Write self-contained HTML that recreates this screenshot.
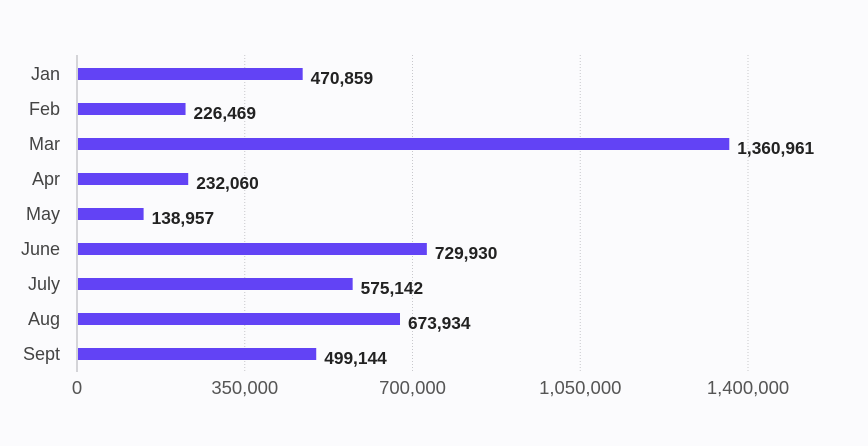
<!DOCTYPE html>
<html><head><meta charset="utf-8"><style>
body{margin:0;background:#fbfbfd;}
svg{display:block;font-family:"Liberation Sans",sans-serif;}
</style></head><body>
<svg width="868" height="446">
<rect width="868" height="446" fill="#fbfbfd"/>
<g id="grid"></g><g id="bars"></g><g id="labels"></g>
</svg>
<script>
const categories=["Jan","Feb","Mar","Apr","May","June","July","Aug","Sept"];
const values=[470859,226469,1360961,232060,138957,729930,575142,673934,499144];
const valueLabels=["470,859","226,469","1,360,961","232,060","138,957","729,930","575,142","673,934","499,144"];
const ticks=[0,350000,700000,1050000,1400000];
const tickLabels=["0","350,000","700,000","1,050,000","1,400,000"];
const NS="http://www.w3.org/2000/svg";
const x0=77,x1=748,maxV=1400000;
const xs=v=>x0+v/maxV*(x1-x0);
const yc=i=>74+i*35;
function mk(t,a,p){const e=document.createElementNS(NS,t);for(const k in a)e.setAttribute(k,a[k]);p.appendChild(e);return e;}
const grid=document.getElementById('grid'),bars=document.getElementById('bars'),labels=document.getElementById('labels');
ticks.forEach((t,i)=>{
 if(i>0){const l=mk('line',{x1:xs(t),x2:xs(t),y1:55,y2:372,stroke:'#c8c8cc','stroke-dasharray':'1,2'},grid);
 
 }
 const tx=mk('text',{x:xs(t),y:394,'text-anchor':'middle','font-size':18.5,fill:'#555'},labels);
 tx.textContent=tickLabels[i];
 
 
});
const ax=mk('line',{x1:x0,x2:x0,y1:55,y2:372,stroke:'#c8c8cc','stroke-width':1.5},grid);


categories.forEach((c,i)=>{
 const r=mk('rect',{x:x0+1,y:yc(i)-6,width:xs(values[i])-x0-1,height:12,fill:'#6243f5'},bars);
 
 
 const cl=mk('text',{x:60,y:yc(i)+6,'text-anchor':'end','font-size':18,fill:'#444'},labels);
 cl.textContent=c;
 
 
 const vl=mk('text',{x:xs(values[i])+8,y:yc(i)+10,'font-size':17.3,'font-weight':'bold',fill:'#222'},labels);
 vl.textContent=valueLabels[i];
 
 
});
</script>
</body></html>
